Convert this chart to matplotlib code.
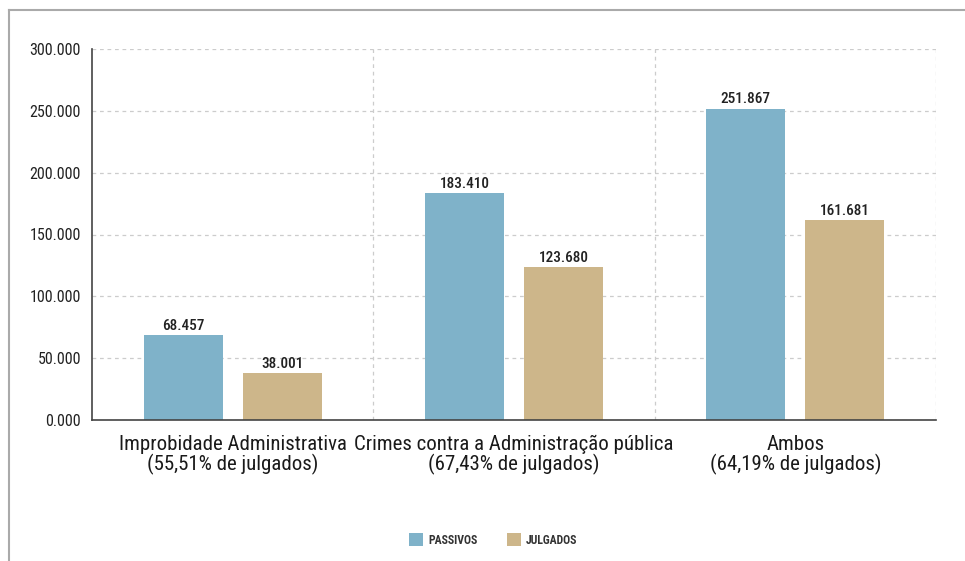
import matplotlib.pyplot as plt
import numpy as np
from matplotlib.lines import Line2D
from matplotlib.ticker import FuncFormatter, FixedLocator
from matplotlib import font_manager

categorias = ["Improbidade Administrativa\n(55,51% de julgados)",
              "Crimes contra a Administração pública\n(67,43% de julgados)",
              "Ambos\n(64,19% de julgados)"]
passivos = [68457, 183410, 251867]
julgados = [38001, 123680, 161681]
series = ["PASSIVOS", "JULGADOS"]
cores = ["#7fb2c9", "#cdb68a"]

# fonte condensada, se houver
disponiveis = {f.name for f in font_manager.fontManager.ttflist}
fonte = next((f for f in ["Roboto Condensed", "Archivo Narrow", "Liberation Sans Narrow"]
              if f in disponiveis), "DejaVu Sans")
plt.rcParams['font.family'] = [fonte, 'DejaVu Sans']

def fmt(v):
    return f"{v:,.0f}".replace(",", ".")

fig = plt.figure(figsize=(9.65, 5.61), dpi=100)
W, H = 965, 561
ax = fig.add_axes([92 / W, 1 - 420 / H, (936 - 92) / W, (420 - 49) / H])

x = np.arange(len(categorias))
bw = 0.28
off = 0.176
b1 = ax.bar(x - off, passivos, bw, color=cores[0], label=series[0], zorder=2)
b2 = ax.bar(x + off, julgados, bw, color=cores[1], label=series[1], zorder=2)

for bars, vals in ((b1, passivos), (b2, julgados)):
    for r, v in zip(bars, vals):
        ax.text(r.get_x() + r.get_width() / 2, v + 2000, fmt(v), ha='center', va='bottom',
                fontsize=11, color='#222222', fontweight='medium')

ax.set_xlim(-0.5, 2.5)
ax.set_ylim(0, 300000)
ax.set_yticks(np.arange(0, 300001, 50000))
ax.yaxis.set_major_formatter(FuncFormatter(lambda v, p: fmt(v) if v else "0.000"))
ax.set_xticks(x)
ax.set_xticklabels(categorias, fontsize=15, color='#1a1a1a', linespacing=0.95)
ax.xaxis.set_minor_locator(FixedLocator([0.5, 1.5, 2.5]))
ax.tick_params(axis='both', which='both', length=0)
ax.tick_params(axis='x', pad=11)
ax.tick_params(axis='y', labelsize=11.5, colors='#222222', pad=8)

ax.grid(axis='y', which='major', color='#cccccc', linestyle=(0, (3, 3)), linewidth=0.9, zorder=0)
ax.grid(axis='x', which='minor', color='#cccccc', linestyle=(0, (3, 3)), linewidth=0.9, zorder=0)
ax.grid(axis='x', which='major', visible=False)
for s in ('top', 'right'):
    ax.spines[s].set_visible(False)
ax.spines['left'].set_color('#444444')
ax.spines['bottom'].set_color('#444444')
ax.spines['left'].set_linewidth(1.2)
ax.spines['bottom'].set_linewidth(1.2)

leg = fig.legend(handles=[b1, b2], labels=series, loc='center', bbox_to_anchor=(493 / W, 1 - 540 / H),
                 ncol=2, frameon=False, fontsize=8.5, handlelength=1.2, handleheight=1.2,
                 columnspacing=2.5, handletextpad=0.4)
for t in leg.get_texts():
    t.set_fontweight('bold')
    t.set_color('#333333')

# moldura cinza
fig.add_artist(Line2D([9 / W, 9 / W], [0, 1 - 10 / H], color='#aaaaaa', lw=1.5))
fig.add_artist(Line2D([9 / W, 1], [1 - 10 / H, 1 - 10 / H], color='#aaaaaa', lw=1.5))

fig.savefig("out.png", dpi=100)
